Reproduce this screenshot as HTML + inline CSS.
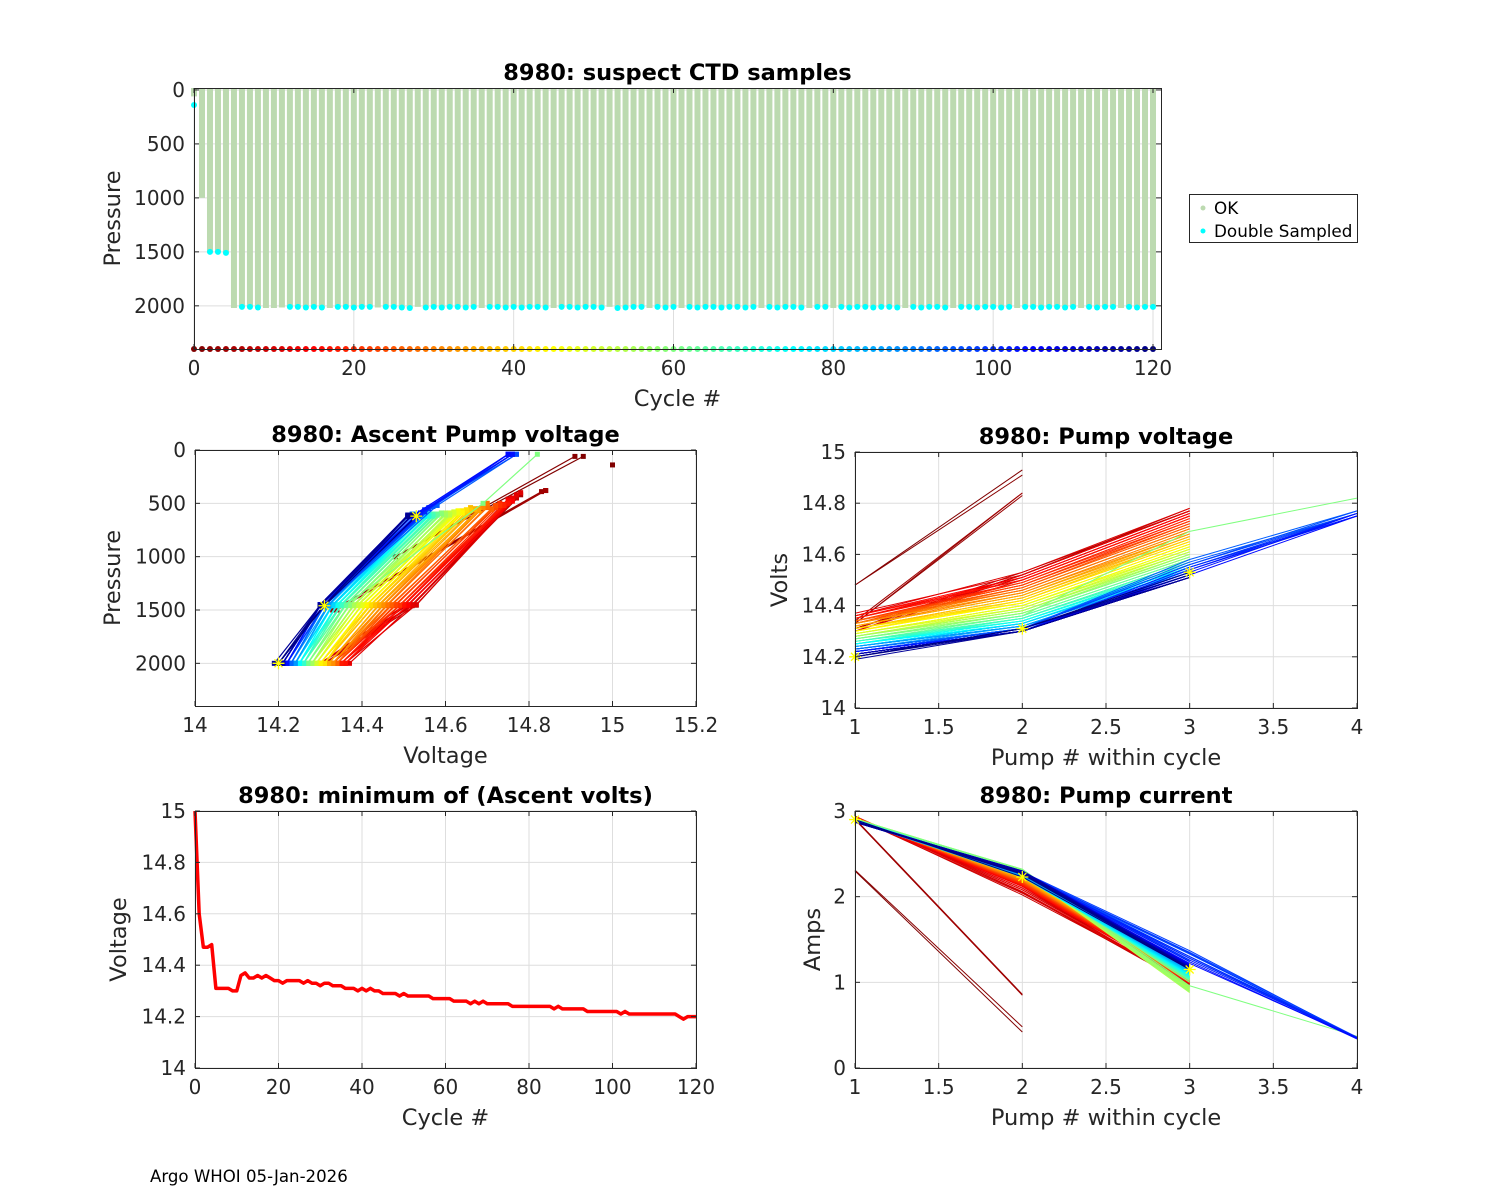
<!DOCTYPE html>
<html><head><meta charset="utf-8"><style>
html,body{margin:0;padding:0;background:#fff;}
svg{display:block;font-family:"DejaVu Sans","Liberation Sans",sans-serif;}
</style></head><body>
<svg id="fig" width="1500" height="1200" viewBox="0 0 1500 1200" xmlns="http://www.w3.org/2000/svg">
<rect x="0" y="0" width="1500" height="1200" fill="#fff"/>
<text x="150" y="1182" font-size="16.6" fill="#000">Argo WHOI 05-Jan-2026</text>
<g>
<rect x="1189.5" y="194.5" width="168" height="48" fill="#fff" stroke="#262626" stroke-width="1"/>
<circle cx="1203" cy="208" r="2.5" fill="#bcdab0"/>
<text x="1214" y="214" font-size="16.8" fill="#000">OK</text>
<circle cx="1203" cy="231" r="2.5" fill="#00ffff"/>
<text x="1214" y="237" font-size="16.8" fill="#000">Double Sampled</text>
</g>
</svg>
<script>
// ---- data ----
const cycles = [];
for (let i = 0; i <= 120; i++) cycles.push(i);
const maxPres = [60,1000,1500,1500,1500,2020,2010,2010,2015,2020,
2020,2015,2010,2010,2015,2010,2015,2020,2010,2010,
2015,2010,2010,2015,2010,2010,2015,2020,2010,2015,
2010,2015,2010,2010,2015,2010,2020,2010,2010,2015,
2010,2015,2010,2010,2015,2020,2010,2010,2015,2010,
2010,2015,2010,2020,2015,2010,2010,2020,2010,2015,
2010,2020,2010,2015,2010,2010,2015,2010,2010,2015,
2010,2020,2010,2015,2010,2010,2015,2020,2010,2010,
2020,2010,2015,2010,2010,2015,2010,2010,2015,2020,
2010,2015,2010,2010,2015,2020,2010,2010,2015,2010,
2010,2015,2010,2020,2010,2010,2015,2010,2010,2015,
2010,2020,2010,2015,2010,2010,2020,2010,2015,2010,
2010];
const noDoubleCycles = [1,5,9,10,11,17,23,28,36,45,52,57,61,71,77,80,89,95,103,111,116];
const doublePres = [140,null,1500,1500,1510];
const minVolt = [15.00,14.60,14.47,14.47,14.48,14.31,14.31,14.31,14.31,14.30,
14.30,14.36,14.37,14.35,14.35,14.36,14.35,14.36,14.35,14.34,
14.34,14.33,14.34,14.34,14.34,14.34,14.33,14.34,14.33,14.33,
14.32,14.33,14.33,14.32,14.32,14.32,14.31,14.31,14.31,14.30,
14.31,14.30,14.31,14.30,14.30,14.29,14.29,14.29,14.29,14.28,
14.29,14.28,14.28,14.28,14.28,14.28,14.28,14.27,14.27,14.27,
14.27,14.27,14.26,14.26,14.26,14.26,14.25,14.26,14.25,14.26,
14.25,14.25,14.25,14.25,14.25,14.25,14.24,14.24,14.24,14.24,
14.24,14.24,14.24,14.24,14.24,14.24,14.23,14.24,14.23,14.23,
14.23,14.23,14.23,14.23,14.22,14.22,14.22,14.22,14.22,14.22,
14.22,14.22,14.21,14.22,14.21,14.21,14.21,14.21,14.21,14.21,
14.21,14.21,14.21,14.21,14.21,14.21,14.20,14.19,14.20,14.20,
14.20];
const pump1VEarly = [14.48,14.48,14.33,14.33,14.34];
const pres1Early = [1000,1000,1500,1500,1500];
const pump2V = [14.93,14.91,14.84,14.83,14.84,14.52,14.53,14.52,14.51,14.52,
14.50,14.53,14.52,14.51,14.50,14.51,14.50,14.50,14.49,14.49,
14.48,14.49,14.48,14.48,14.47,14.47,14.47,14.46,14.46,14.46,
14.45,14.45,14.45,14.44,14.44,14.44,14.43,14.43,14.43,14.42,
14.42,14.42,14.41,14.41,14.41,14.40,14.40,14.40,14.40,14.39,
14.39,14.39,14.38,14.38,14.38,14.38,14.37,14.37,14.37,14.37,
14.36,14.36,14.36,14.36,14.35,14.35,14.35,14.35,14.35,14.34,
14.34,14.34,14.34,14.34,14.33,14.33,14.33,14.33,14.33,14.33,
14.33,14.32,14.32,14.32,14.32,14.32,14.32,14.32,14.31,14.31,
14.31,14.31,14.31,14.31,14.31,14.31,14.31,14.31,14.30,14.30,
14.30,14.30,14.30,14.30,14.30,14.30,14.30,14.30,14.30,14.30,
14.30,14.30,14.30,14.30,14.30,14.30,14.31,14.30,14.30,14.31,
14.31];
const pump3V = [null,null,null,null,null,14.78,14.77,14.77,14.76,14.77,
14.75,14.78,14.77,14.76,14.75,14.76,14.75,14.75,14.74,14.74,
14.73,14.73,14.72,14.72,14.72,14.71,14.71,14.70,14.70,14.70,
14.69,14.69,14.68,14.68,14.68,14.67,14.67,14.66,14.66,14.66,
14.65,14.65,14.64,14.64,14.64,14.63,14.63,14.63,14.62,14.62,
14.62,14.61,14.61,14.61,14.60,14.60,14.60,14.59,14.59,14.59,
14.69,14.58,14.58,14.58,14.57,14.57,14.57,14.57,14.56,14.56,
14.56,14.56,14.55,14.55,14.55,14.55,14.55,14.54,14.54,14.54,
14.54,14.54,14.53,14.53,14.53,14.53,14.53,14.53,14.52,14.52,
14.52,14.52,14.52,14.52,14.58,14.57,14.56,14.56,14.55,14.55,
14.55,14.54,14.54,14.53,14.52,14.52,14.51,14.51,14.51,14.51,
14.51,14.51,14.51,14.51,14.51,14.51,14.51,14.51,14.51,14.52,
14.53];
const pump4Cycles = [60,94,95,96,97,98,99,100,101,102,103,104];
const pump4V = [14.82,14.77,14.76,14.77,14.76,14.75,14.76,14.75,14.76,14.75,14.76,14.75];
const pump4A = [0.37,0.35,0.36,0.35,0.36,0.35,0.34,0.35,0.36,0.35,0.34,0.35];
const pres2 = [60,60,380,390,380,1450,1455,1460,1450,1455,
1460,1450,1455,1460,1450,1455,1460,1450,1455,1460,
1450,1455,1460,1450,1455,1460,1450,1455,1460,1450,
1455,1460,1450,1455,1460,1450,1455,1460,1450,1455,
1460,1450,1455,1460,1450,1455,1460,1450,1455,1460,
1450,1455,1460,1450,1455,1460,1450,1455,1460,1450,
1455,1460,1450,1455,1460,1450,1455,1460,1450,1455,
1460,1450,1455,1460,1450,1455,1460,1450,1455,1460,
1450,1455,1460,1450,1455,1460,1450,1455,1460,1450,
1455,1460,1450,1455,1460,1450,1455,1460,1450,1455,
1460,1450,1455,1460,1450,1455,1460,1450,1455,1460,
1450,1455,1460,1450,1455,1460,1450,1455,1460,1450,
1460];
const pres3 = [null,null,null,null,null,420,430,450,470,440,
460,400,420,450,470,480,490,500,510,520,
500,520,530,540,520,550,560,540,530,500,
520,540,550,560,570,560,550,540,560,570,
580,560,570,580,590,570,580,590,600,590,
580,590,600,610,590,600,610,600,590,600,
500,610,600,610,620,600,610,620,610,600,
610,620,600,610,620,610,620,600,610,620,
610,620,610,600,620,610,620,610,620,610,
600,610,620,610,520,530,540,550,560,570,
580,590,600,610,620,610,620,610,620,610,
620,610,620,610,620,610,620,610,620,610,
620];
const pump4Pres = 40;
const amp1 = [2.30,2.31,2.90,2.91,2.90,2.93,2.92,2.93,2.94,2.93,
2.92,2.93,2.92,2.93,2.92,2.91,2.92,2.93,2.92,2.91,
2.92,2.91,2.92,2.91,2.92,2.91,2.92,2.91,2.92,2.91,
2.91,2.92,2.91,2.92,2.91,2.91,2.92,2.91,2.90,2.91,
2.91,2.90,2.91,2.90,2.91,2.90,2.91,2.90,2.91,2.90,
2.90,2.91,2.90,2.91,2.90,2.90,2.91,2.90,2.90,2.91,
2.90,2.90,2.89,2.90,2.90,2.89,2.90,2.89,2.90,2.89,
2.89,2.90,2.89,2.89,2.90,2.89,2.89,2.88,2.89,2.89,
2.88,2.89,2.88,2.89,2.88,2.88,2.89,2.88,2.88,2.89,
2.88,2.88,2.89,2.88,2.88,2.89,2.88,2.88,2.87,2.88,
2.88,2.87,2.88,2.87,2.88,2.87,2.88,2.87,2.88,2.87,
2.88,2.87,2.88,2.87,2.88,2.87,2.88,2.87,2.88,2.88,
2.90];
const amp2 = [0.42,0.48,0.85,0.86,0.85,2.12,2.10,2.08,2.05,2.02,
2.04,2.06,2.08,2.10,2.12,2.14,2.13,2.15,2.14,2.16,
2.15,2.17,2.16,2.18,2.17,2.18,2.19,2.18,2.20,2.19,
2.20,2.21,2.20,2.22,2.21,2.22,2.23,2.22,2.24,2.23,
2.24,2.25,2.24,2.26,2.25,2.26,2.27,2.26,2.28,2.27,
2.28,2.29,2.28,2.30,2.29,2.30,2.31,2.30,2.32,2.31,
2.32,2.30,2.29,2.28,2.27,2.26,2.25,2.26,2.27,2.26,
2.25,2.24,2.25,2.24,2.23,2.24,2.25,2.24,2.23,2.24,
2.25,2.26,2.25,2.24,2.25,2.26,2.27,2.26,2.25,2.26,
2.27,2.28,2.27,2.28,2.29,2.28,2.27,2.28,2.29,2.28,
2.27,2.28,2.29,2.28,2.27,2.28,2.29,2.28,2.29,2.30,
2.29,2.30,2.29,2.28,2.29,2.30,2.29,2.28,2.27,2.26,
2.23];
const amp3 = [null,null,null,null,null,0.95,0.97,0.98,0.96,0.99,
1.00,0.98,0.99,1.01,1.00,1.02,1.01,0.99,1.00,1.02,
1.01,1.03,1.02,1.00,1.01,1.03,1.02,1.04,1.03,1.01,
1.02,1.04,1.03,1.05,1.04,1.02,1.03,1.05,1.04,1.06,
1.05,1.03,1.04,1.06,1.05,1.07,1.06,1.04,1.05,0.95,
0.93,0.91,0.90,0.92,0.88,0.94,0.90,0.92,0.89,0.94,
0.96,1.00,1.02,1.04,1.03,1.05,1.04,1.06,1.05,1.07,
1.06,1.08,1.07,1.09,1.08,1.10,1.09,1.11,1.10,1.12,
1.11,1.13,1.12,1.14,1.13,1.15,1.14,1.16,1.15,1.17,
1.18,1.20,1.22,1.25,1.28,1.30,1.33,1.35,1.37,1.34,
1.30,1.28,1.26,1.24,1.22,1.21,1.20,1.19,1.18,1.20,
1.19,1.18,1.17,1.18,1.16,1.17,1.16,1.17,1.16,1.15,
1.15];
const cycleTicks = [0,20,40,60,80,100,120];
const presTicks = [0,500,1000,1500,2000];
const voltTicksX = [14,14.2,14.4,14.6,14.8,15,15.2];
const voltTicksY = [14,14.2,14.4,14.6,14.8,15];
const pumpTicks = [1,1.5,2,2.5,3,3.5,4];
const ampTicks = [0,1,2,3];

// ---- helpers ----
const NS = 'http://www.w3.org/2000/svg';
const svg = document.getElementById('fig');
function el(tag, attrs, parent) {
  const e = document.createElementNS(NS, tag);
  for (const k in attrs) e.setAttribute(k, attrs[k]);
  (parent || svg).appendChild(e);
  return e;
}
function jetR(c) {
  const t = 1 - c / 120;
  const cl = v => Math.max(0, Math.min(1, v));
  const r = cl(1.5 - Math.abs(4 * t - 3)), g = cl(1.5 - Math.abs(4 * t - 2)), b = cl(1.5 - Math.abs(4 * t - 1));
  return 'rgb(' + Math.round(r * 255) + ',' + Math.round(g * 255) + ',' + Math.round(b * 255) + ')';
}
function fmt(v) { return String(Math.round(v * 100) / 100); }
function makeAxes(o) {
  const g = el('g', {});
  
  
  const sx = v => o.x0 + (v - o.xmin) / (o.xmax - o.xmin) * o.w;
  const sy = o.rev ? (v => o.y0 + (v - o.ymin) / (o.ymax - o.ymin) * o.h)
                   : (v => o.y0 + o.h - (v - o.ymin) / (o.ymax - o.ymin) * o.h);
  const grid = el('g', {}, g);
  
  
  o.xt.forEach(v => el('line', {x1: sx(v), x2: sx(v), y1: o.y0, y2: o.y0 + o.h, stroke: '#dedede', 'stroke-width': 1}, grid));
  o.yt.forEach(v => el('line', {x1: o.x0, x2: o.x0 + o.w, y1: sy(v), y2: sy(v), stroke: '#dedede', 'stroke-width': 1}, grid));
  const plot = el('g', {}, g);
  
  
  const fr = el('g', {}, g);
  
  
  return {g, plot, fr, sx, sy, o};
}
function finishAxes(A) {
  const o = A.o, g = A.fr;
  el('rect', {x: o.x0 + 0.5, y: o.y0 + 0.5, width: o.w, height: o.h, fill: 'none', stroke: '#262626', 'stroke-width': 1}, g);
  const xa = el('g', {}, g);
  
  
  o.xt.forEach(v => {
    const x = A.sx(v);
    el('line', {x1: x, x2: x, y1: o.y0 + o.h, y2: o.y0 + o.h - 5, stroke: '#262626'}, xa);
    el('line', {x1: x, x2: x, y1: o.y0, y2: o.y0 + 5, stroke: '#262626'}, xa);
    const t = el('text', {x: x, y: o.y0 + o.h + 26, 'font-size': 20, 'text-anchor': 'middle', fill: '#262626'}, xa);
    t.textContent = fmt(v);
  });
  const ya = el('g', {}, g);
  
  
  o.yt.forEach(v => {
    const y = A.sy(v);
    el('line', {x1: o.x0, x2: o.x0 + 5, y1: y, y2: y, stroke: '#262626'}, ya);
    el('line', {x1: o.x0 + o.w, x2: o.x0 + o.w - 5, y1: y, y2: y, stroke: '#262626'}, ya);
    const t = el('text', {x: o.x0 - 9, y: y + 7, 'font-size': 20, 'text-anchor': 'end', fill: '#262626'}, ya);
    t.textContent = fmt(v);
  });
  const ti = el('text', {x: o.x0 + o.w / 2, y: o.y0 - 8, 'font-size': 22.5, 'font-weight': 'bold', 'text-anchor': 'middle', fill: '#000'}, g);
  ti.textContent = o.title;
  
  
  const xl = el('text', {x: o.x0 + o.w / 2, y: o.y0 + o.h + 57, 'font-size': 22.5, 'text-anchor': 'middle', fill: '#262626'}, g);
  xl.textContent = o.xlabel;
  
  
  const yl = el('text', {x: 0, y: 0, 'font-size': 22.5, 'text-anchor': 'middle', fill: '#262626', transform: 'translate(' + o.ylx + ',' + (o.y0 + o.h / 2) + ') rotate(-90)'}, g);
  yl.textContent = o.ylabel;
  
  
}
function star(x, y, parent) {
  return el('path', {d: 'M' + (x - 6) + ' ' + y + 'h12M' + x + ' ' + (y - 6) + 'v12M' + (x - 4) + ' ' + (y - 4) + 'l8 8M' + (x - 4) + ' ' + (y + 4) + 'l8 -8', stroke: '#ffff00', 'stroke-width': 1.3, fill: 'none'}, parent);
}
const pump1V = pump1VEarly.concat(minVolt.slice(5));
const pres1 = pres1Early.concat(maxPres.slice(5).map(p => Math.min(p, 2000)));

// ---- top: suspect CTD samples ----
(function () {
  const A = makeAxes({name: 'suspect-ctd-chart', x0: 194, y0: 88, w: 967, h: 261, xmin: 0, xmax: 121, ymin: -18, ymax: 2400, rev: true,
    xt: cycleTicks, yt: presTicks, title: '8980: suspect CTD samples', xlabel: 'Cycle #', ylabel: 'Pressure', ylx: 120});
  cycles.forEach(c => {
    const b = el('line', {x1: A.sx(c), x2: A.sx(c), y1: A.sy(-18), y2: A.sy(maxPres[c]), stroke: '#bcdab0', 'stroke-width': 6}, A.plot);
    
    
  });
  cycles.forEach(c => {
    if (noDoubleCycles.indexOf(c) >= 0) return;
    const p = c < doublePres.length ? doublePres[c] : maxPres[c];
    if (p == null) return;
    const d = el('circle', {cx: A.sx(c), cy: A.sy(p), r: 3, fill: '#00ffff'}, A.plot);
    
    
  });
  cycles.forEach(c => {
    const d = el('circle', {cx: A.sx(c), cy: A.sy(2400), r: 3, fill: jetR(c)}, A.plot);
    
    
  });
  finishAxes(A);
})();

// ---- middle-left: ascent pump voltage ----
(function () {
  const A = makeAxes({name: 'ascent-pump-voltage-chart', x0: 195, y0: 450, w: 501, h: 256, xmin: 14, xmax: 15.2, ymin: 0, ymax: 2400, rev: true,
    xt: voltTicksX, yt: presTicks, title: '8980: Ascent Pump voltage', xlabel: 'Voltage', ylabel: 'Pressure', ylx: 120});
  cycles.forEach(c => {
    const pts = [[pump1V[c], pres1[c]], [pump2V[c], pres2[c]]];
    if (pump3V[c] != null) pts.push([pump3V[c], pres3[c]]);
    const k = pump4Cycles.indexOf(c);
    if (k >= 0) pts.push([pump4V[k], pump4Pres]);
    const col = jetR(c);
    const pl = el('polyline', {points: pts.map(p => A.sx(p[0]) + ',' + A.sy(p[1])).join(' '), fill: 'none', stroke: col, 'stroke-width': 1.2}, A.plot);
    
    
    pts.forEach(p => {
      const m = el('rect', {x: A.sx(p[0]) - 2.5, y: A.sy(p[1]) - 2.5, width: 5, height: 5, fill: col}, A.plot);
      
      
    });
  });
  [[pump1V[120], pres1[120]], [pump2V[120], pres2[120]], [pump3V[120], pres3[120]]].forEach(p => {
    const s = star(A.sx(p[0]), A.sy(p[1]), A.plot);
    
    
  });
  const lone = el('rect', {x: A.sx(minVolt[0]) - 2.5, y: A.sy(doublePres[0]) - 2.5, width: 5, height: 5, fill: jetR(0)}, A.plot);
  
  
  finishAxes(A);
})();

// ---- middle-right: pump voltage ----
(function () {
  const A = makeAxes({name: 'pump-voltage-chart', x0: 855, y0: 452, w: 502, h: 256, xmin: 1, xmax: 4, ymin: 14, ymax: 15, rev: false,
    xt: pumpTicks, yt: voltTicksY, title: '8980: Pump voltage', xlabel: 'Pump # within cycle', ylabel: 'Volts', ylx: 787});
  cycles.forEach(c => {
    const vals = [pump1V[c], pump2V[c]];
    if (pump3V[c] != null) vals.push(pump3V[c]);
    const k = pump4Cycles.indexOf(c);
    if (k >= 0) vals.push(pump4V[k]);
    const pl = el('polyline', {points: vals.map((v, i) => A.sx(i + 1) + ',' + A.sy(v)).join(' '), fill: 'none', stroke: jetR(c), 'stroke-width': 1}, A.plot);
    
    
  });
  [pump1V[120], pump2V[120], pump3V[120]].forEach((v, i) => {
    const s = star(A.sx(i + 1), A.sy(v), A.plot);
    
    
  });
  finishAxes(A);
})();

// ---- bottom-left: minimum ascent volts ----
(function () {
  const A = makeAxes({name: 'min-ascent-volts-chart', x0: 195, y0: 811, w: 501, h: 257, xmin: 0, xmax: 120, ymin: 14, ymax: 15, rev: false,
    xt: cycleTicks, yt: voltTicksY, title: '8980: minimum of (Ascent volts)', xlabel: 'Cycle #', ylabel: 'Voltage', ylx: 126});
  const pl = el('polyline', {points: cycles.map(c => A.sx(c) + ',' + A.sy(minVolt[c])).join(' '), fill: 'none', stroke: '#ff0000', 'stroke-width': 3.5, 'stroke-linejoin': 'round'}, A.plot);
  
  
  finishAxes(A);
})();

// ---- bottom-right: pump current ----
(function () {
  const A = makeAxes({name: 'pump-current-chart', x0: 855, y0: 811, w: 502, h: 257, xmin: 1, xmax: 4, ymin: 0, ymax: 3, rev: false,
    xt: pumpTicks, yt: ampTicks, title: '8980: Pump current', xlabel: 'Pump # within cycle', ylabel: 'Amps', ylx: 820});
  cycles.forEach(c => {
    const vals = [amp1[c], amp2[c]];
    if (amp3[c] != null) vals.push(amp3[c]);
    const k = pump4Cycles.indexOf(c);
    if (k >= 0) vals.push(pump4A[k]);
    const pl = el('polyline', {points: vals.map((v, i) => A.sx(i + 1) + ',' + A.sy(v)).join(' '), fill: 'none', stroke: jetR(c), 'stroke-width': 1}, A.plot);
    
    
  });
  [amp1[120], amp2[120], amp3[120]].forEach((v, i) => {
    const s = star(A.sx(i + 1), A.sy(v), A.plot);
    
    
  });
  finishAxes(A);
})();
</script>
</body></html>
